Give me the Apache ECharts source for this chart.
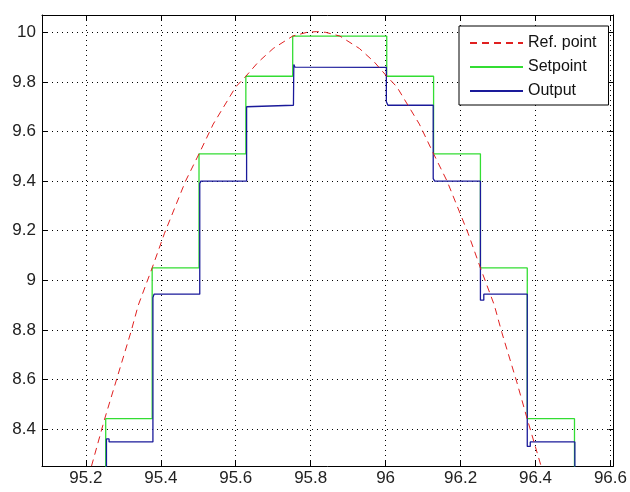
<!DOCTYPE html>
<html>
<head>
<meta charset="utf-8">
<script src="https://cdn.jsdelivr.net/npm/echarts@6/dist/echarts.min.js"></script>
<style>
html,body{margin:0;padding:0;background:#fff;}
#chart{width:630px;height:492px;}
</style>
</head>
<body>
<div id="chart"></div>
<script>
// ---- data ----
const xTicks = [95.2, 95.4, 95.6, 95.8, 96, 96.2, 96.4, 96.6];
const yTicks = [8.4, 8.6, 8.8, 9, 9.2, 9.4, 9.6, 9.8, 10];

const refX = [95.215, 95.25, 95.28, 95.32, 95.34, 95.377, 95.41, 95.466, 95.502, 95.54, 95.6, 95.627, 95.66, 95.7, 95.752, 95.79, 95.815, 95.84, 95.878, 95.93, 95.97, 96.003, 96.03, 96.09, 96.128, 96.164, 96.22, 96.253, 96.29, 96.31, 96.35, 96.378, 96.415];
const refY = [8.25, 8.44, 8.59, 8.79, 8.9, 9.05, 9.19, 9.4, 9.51, 9.63, 9.78, 9.823, 9.88, 9.935, 9.985, 10.0, 10.003, 10.0, 9.985, 9.935, 9.88, 9.823, 9.78, 9.63, 9.51, 9.4, 9.19, 9.05, 8.9, 8.79, 8.59, 8.44, 8.25];

const setX = [95.253, 95.253, 95.377, 95.377, 95.502, 95.502, 95.627, 95.627, 95.752, 95.752, 96.003, 96.003, 96.128, 96.128, 96.253, 96.253, 96.378, 96.378, 96.504, 96.504];
const setY = [8.0, 8.442, 8.442, 9.05, 9.05, 9.51, 9.51, 9.823, 9.823, 9.985, 9.985, 9.823, 9.823, 9.51, 9.51, 9.05, 9.05, 8.442, 8.442, 8.0];

const outX = [95.255, 95.255, 95.262, 95.262, 95.379, 95.379, 95.382, 95.382, 95.504, 95.504, 95.507, 95.507, 95.629, 95.629, 95.632, 95.632, 95.754, 95.755, 95.758, 95.758, 96.002, 96.002, 96.006, 96.006, 96.127, 96.127, 96.131, 96.131, 96.253, 96.253, 96.262, 96.262, 96.378, 96.378, 96.386, 96.386, 96.505, 96.505];
const outY = [8.0, 8.36, 8.36, 8.348, 8.348, 8.93, 8.93, 8.944, 8.944, 9.39, 9.39, 9.40, 9.40, 9.70, 9.70, 9.706, 9.706, 9.87, 9.86, 9.859, 9.859, 9.72, 9.72, 9.706, 9.706, 9.41, 9.41, 9.40, 9.40, 8.92, 8.92, 8.944, 8.944, 8.33, 8.33, 8.348, 8.348, 8.0];

const seriesNames = ['Ref. point', 'Setpoint', 'Output'];

// ---- build ----
const zip = (xs, ys) => xs.map((x, i) => [x, ys[i]]);
const FONT = 'Liberation Sans, Arial, sans-serif';
const X_MIN = 95.083, X_MAX = 96.608, Y_MIN = 8.251, Y_MAX = 10.07;

const gridDash = { color: '#000', width: 1, type: [1, 4] };

function xAx(pos, main) {
  return {
    type: 'value', position: pos, min: X_MIN, max: X_MAX,
    axisLine: { show: true, onZero: false, lineStyle: { color: '#000', width: 1 } },
    axisTick: { show: true, inside: true, length: 5, customValues: xTicks, lineStyle: { color: '#000' } },
    axisLabel: { show: main, customValues: xTicks, color: '#222', fontFamily: FONT, fontSize: 17, margin: 4 },
    splitLine: { show: main, lineStyle: gridDash }
  };
}
function yAx(pos, main) {
  return {
    type: 'value', position: pos, min: Y_MIN, max: Y_MAX,
    axisLine: { show: true, onZero: false, lineStyle: { color: '#000', width: 1 } },
    axisTick: { show: true, inside: true, length: 5, customValues: yTicks, lineStyle: { color: '#000' } },
    axisLabel: { show: main, customValues: yTicks, color: '#222', fontFamily: FONT, fontSize: 17, margin: 6 },
    splitLine: { show: main, lineStyle: gridDash }
  };
}

const chart = echarts.init(document.getElementById('chart'), null, { renderer: 'canvas' });
chart.setOption({
  backgroundColor: '#fff',
  animation: false,
  grid: { left: 42, top: 15, right: 14, bottom: 26, containLabel: false },
  xAxis: [xAx('bottom', true), xAx('top', false)],
  yAxis: [yAx('left', true), yAx('right', false)],
  legend: {
    left: 459, top: 26, orient: 'vertical',
    data: seriesNames,
    backgroundColor: '#fff', borderColor: '#000', borderWidth: 1, borderRadius: 0,
    padding: [9, 12, 6, 10],
    itemWidth: 53, itemHeight: 14, itemGap: 8,
    itemStyle: { opacity: 0 },
    textStyle: { fontFamily: FONT, fontSize: 16, color: '#111' }
  },
  series: [
    { name: seriesNames[0], type: 'line', data: zip(refX, refY), showSymbol: false, symbol: 'none',
      lineStyle: { color: '#e02020', width: 1, type: [7, 5] }, itemStyle: { color: '#e02020' }, z: 3 },
    { name: seriesNames[1], type: 'line', data: zip(setX, setY), showSymbol: false, symbol: 'none',
      lineStyle: { color: '#33dd33', width: 1.3 }, itemStyle: { color: '#33dd33' }, z: 2 },
    { name: seriesNames[2], type: 'line', data: zip(outX, outY), showSymbol: false, symbol: 'none',
      lineStyle: { color: '#1a1a9a', width: 1.3 }, itemStyle: { color: '#1a1a9a' }, z: 2 }
  ]
});
</script>
</body>
</html>
